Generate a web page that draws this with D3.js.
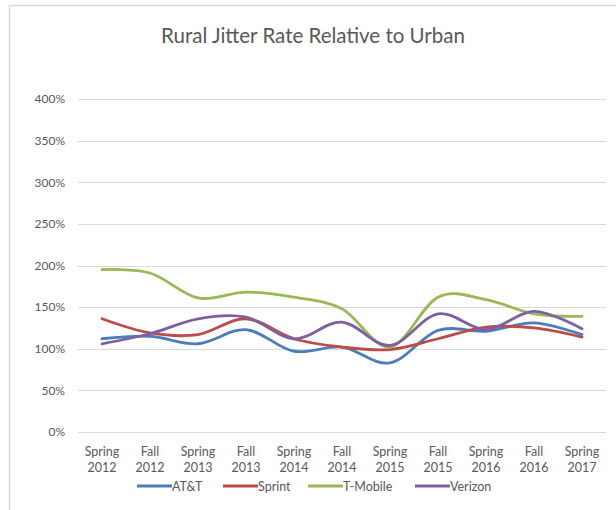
<!DOCTYPE html>
<html>
<head>
<meta charset="utf-8">
<script src="https://cdn.jsdelivr.net/npm/d3@7"></script>
<style>
  html, body { margin: 0; padding: 0; background: #fff; }
  svg { display: block; }
</style>
</head>
<body>
<svg id="chart" width="616" height="510"></svg>
<script>
const categories = ["Spring 2012","Fall 2012","Spring 2013","Fall 2013","Spring 2014","Fall 2014","Spring 2015","Fall 2015","Spring 2016","Fall 2016","Spring 2017"];
const att      = [1.12, 1.15, 1.06, 1.23, 0.97, 1.02, 0.83, 1.22, 1.21, 1.31, 1.17];
const sprint   = [1.36, 1.19, 1.17, 1.36, 1.12, 1.02, 0.99, 1.12, 1.26, 1.25, 1.14];
const tmobile  = [1.95, 1.91, 1.61, 1.68, 1.62, 1.48, 1.02, 1.62, 1.59, 1.42, 1.39];
const verizon  = [1.06, 1.18, 1.36, 1.38, 1.12, 1.32, 1.04, 1.42, 1.23, 1.45, 1.24];
const seriesNames = ["AT&T","Sprint","T-Mobile","Verizon"];
const seriesColors = ["#4A7EBB","#BE4B48","#98B954","#7D60A0"];
const yTicks = [0, 0.5, 1, 1.5, 2, 2.5, 3, 3.5, 4];

const seriesValues = [att, sprint, tmobile, verizon];
const svg = d3.select("#chart");
const font = "Lato, 'Open Sans', sans-serif";
const textColor = "#595959";

// chart border
svg.append("path").attr("d", "M9.5,520 L9.5,5.5 L630,5.5")
  .attr("fill", "none").attr("stroke", "#d9d9d9").attr("stroke-width", 1.5);

// title
svg.append("text").attr("x", 313).attr("y", 43).attr("text-anchor", "middle")
  .attr("font-family", font).attr("font-size", 20.5).attr("fill", textColor)
  .text("Rural Jitter Rate Relative to Urban");

const x = d3.scaleBand().domain(categories).range([78, 606]).padding(0);
const y = d3.scaleLinear().domain([0, 4]).range([432, 99]);

// gridlines
svg.append("g").selectAll("line").data(yTicks).join("line")
  .attr("x1", 78).attr("x2", 606)
  .attr("y1", d => Math.round(y(d)) + 0.5).attr("y2", d => Math.round(y(d)) + 0.5)
  .attr("stroke", "#d9d9d9").attr("stroke-width", 1.2);

// y axis labels
const yAxis = d3.axisLeft(y).tickValues(yTicks).tickFormat(d3.format(".0%")).tickSize(0).tickPadding(0);
const gy = svg.append("g").attr("transform", "translate(65,0)").call(yAxis);
gy.select(".domain").remove();
gy.selectAll("text").attr("font-family", font).attr("font-size", 12).attr("fill", textColor);

// x axis labels (two lines)
const gx = svg.append("g");
categories.forEach(c => {
  const parts = c.split(" ");
  const t = gx.append("text").attr("text-anchor", "middle")
    .attr("font-family", font).attr("font-size", 12.5).attr("fill", textColor)
    .attr("x", x(c) + x.bandwidth() / 2).attr("y", 456);
  t.append("tspan").attr("x", x(c) + x.bandwidth() / 2).attr("dy", 0).text(parts[0]);
  t.append("tspan").attr("x", x(c) + x.bandwidth() / 2).attr("dy", 16).text(parts[1]);
});

// lines
const line = d3.line()
  .x((d, i) => x(categories[i]) + x.bandwidth() / 2)
  .y(d => y(d))
  .curve(d3.curveCardinal.tension(0));
seriesValues.forEach((vals, i) => {
  svg.append("path").datum(vals).attr("d", line)
    .attr("fill", "none").attr("stroke", seriesColors[i])
    .attr("stroke-width", 2.8).attr("stroke-linecap", "round").attr("stroke-linejoin", "round");
});

// legend
const legendX = [137, 223, 308, 415];
seriesNames.forEach((n, i) => {
  const g = svg.append("g").attr("transform", `translate(${legendX[i]},486)`);
  g.append("line").attr("x1", 0).attr("x2", 35).attr("y1", 0).attr("y2", 0)
    .attr("stroke", seriesColors[i]).attr("stroke-width", 2.8);
  g.append("text").attr("x", 35).attr("y", 4.5).attr("font-family", font)
    .attr("font-size", 12.5).attr("fill", textColor).text(n);
});
</script>
</body>
</html>
